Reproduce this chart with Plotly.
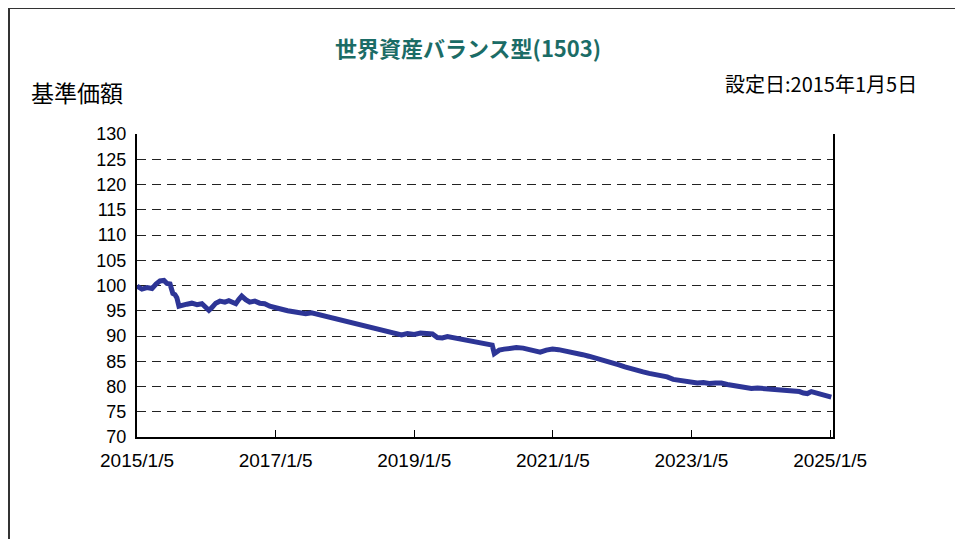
import plotly.graph_objects as go

# ---- data ----
dates = [
    "2015-01-05", "2015-01-31", "2015-02-27", "2015-03-25", "2015-04-15", "2015-05-06",
    "2015-05-27", "2015-06-12", "2015-06-28", "2015-07-13", "2015-07-24", "2015-08-03",
    "2015-08-14", "2015-09-04", "2015-09-25", "2015-10-21", "2015-11-17", "2015-12-13",
    "2016-01-03", "2016-01-19", "2016-02-03", "2016-02-24", "2016-03-17", "2016-04-12",
    "2016-05-03", "2016-05-24", "2016-06-09", "2016-06-24", "2016-07-10", "2016-07-31",
    "2016-08-21", "2016-09-17", "2016-10-13", "2016-11-08", "2016-12-05", "2017-01-05",
    "2017-02-06", "2017-03-09", "2017-04-10", "2017-05-11", "2017-06-12", "2017-07-13",
    "2017-08-14", "2017-09-14", "2017-10-16", "2017-11-17", "2017-12-18", "2018-01-19",
    "2018-02-19", "2018-03-23", "2018-04-23", "2018-05-25", "2018-06-25", "2018-07-27",
    "2018-08-28", "2018-09-28", "2018-10-30", "2018-11-30", "2019-01-06", "2019-02-07",
    "2019-03-10", "2019-04-11", "2019-05-07", "2019-06-02", "2019-06-29", "2019-07-30",
    "2019-08-31", "2019-10-01", "2019-11-02", "2019-12-03", "2020-01-04", "2020-02-05",
    "2020-02-20", "2020-03-02", "2020-03-12", "2020-03-28", "2020-04-23", "2020-05-20",
    "2020-06-26", "2020-08-01", "2020-09-02", "2020-10-04", "2020-10-30", "2020-12-01",
    "2021-01-03", "2021-02-04", "2021-03-08", "2021-04-08", "2021-05-10", "2021-06-11",
    "2021-07-13", "2021-08-13", "2021-09-14", "2021-10-16", "2021-11-17", "2021-12-19",
    "2022-01-19", "2022-02-20", "2022-03-24", "2022-04-25", "2022-05-27", "2022-06-28",
    "2022-07-29", "2022-08-30", "2022-10-01", "2022-11-02", "2022-12-03", "2023-01-04",
    "2023-02-05", "2023-03-09", "2023-04-09", "2023-05-11", "2023-06-12", "2023-07-13",
    "2023-08-14", "2023-09-15", "2023-10-16", "2023-11-17", "2023-12-19", "2024-01-19",
    "2024-02-20", "2024-03-23", "2024-04-23", "2024-05-25", "2024-06-26", "2024-07-27",
    "2024-08-17", "2024-09-07", "2024-09-28", "2024-10-19", "2024-11-09", "2024-11-30",
    "2024-12-21", "2025-01-11",
]
nav = [
    99.9, 99.3, 99.6, 99.4, 100.3, 100.9,
    101.0, 100.4, 100.3, 98.4, 98.2, 97.6,
    95.9, 96.0, 96.3, 96.5, 96.2, 96.4,
    95.8, 95.1, 95.6, 96.5, 96.9, 96.7,
    97.0, 96.6, 96.4, 97.2, 97.9, 97.2,
    96.7, 96.9, 96.5, 96.4, 95.9, 95.6,
    95.2, 95.0, 94.8, 94.7, 94.4, 94.6,
    94.3, 94.1, 93.8, 93.5, 93.2, 92.8,
    92.6, 92.4, 92.0, 91.7, 91.4, 91.0,
    90.7, 90.4, 90.2, 90.5, 90.3, 90.6,
    90.6, 90.4, 89.7, 89.6, 89.9, 89.7,
    89.4, 89.3, 89.0, 88.8, 88.6, 88.4,
    88.2, 86.5, 86.8, 87.2, 87.4, 87.6,
    87.7, 87.6, 87.3, 87.0, 86.8, 87.2,
    87.4, 87.3, 87.1, 86.9, 86.6, 86.3,
    86.0, 85.7, 85.4, 85.0, 84.6, 84.3,
    83.9, 83.5, 83.3, 82.9, 82.6, 82.4,
    82.3, 81.9, 81.4, 81.2, 81.1, 80.8,
    80.7, 80.8, 80.6, 80.7, 80.7, 80.4,
    80.2, 80.0, 79.9, 79.6, 79.7, 79.6,
    79.7, 79.6, 79.5, 79.3, 79.2, 79.0,
    78.7, 78.6, 79.0, 78.8, 78.5, 78.3,
    78.1, 77.9,
]
x_tick_vals = ["2015-01-05", "2017-01-05", "2019-01-05", "2021-01-05", "2023-01-05", "2025-01-05"]
x_tick_text = ["2015/1/5", "2017/1/5", "2019/1/5", "2021/1/5", "2023/1/5", "2025/1/5"]
y_tick_vals = [70, 75, 80, 85, 90, 95, 100, 105, 110, 115, 120, 125, 130]

title_text = "世界資産バランス型(1503)"
ylabel_text = "基準価額"
setup_text = "設定日:2015年1月5日"

# ---- layout geometry (screen pixels; page body adds an 8px offset) ----
OFF = 8
W, H = 963, 539
L, R, T, B = 137 - OFF, 833 - OFF, 134 - OFF, 437 - OFF

def px_x(p):
    return (p - OFF - L) / (R - L)

def px_y(p):
    return (B - (p - OFF)) / (B - T)

jp_font = "Noto Sans CJK JP"

fig = go.Figure()
fig.add_trace(go.Scatter(
    x=dates, y=nav, mode="lines",
    line=dict(color="#2d3596", width=5),
    hoverinfo="skip", showlegend=False,
))

fig.update_layout(
    width=W, height=H,
    margin=dict(l=L, r=W - R, t=T, b=H - B, pad=0),
    paper_bgcolor="white", plot_bgcolor="white",
    showlegend=False,
    xaxis=dict(
        type="date",
        range=["2015-01-05", "2025-01-20"],
        tickvals=x_tick_vals, ticktext=x_tick_text,
        ticks="inside", ticklen=7, tickcolor="#000", tickwidth=1,
        showline=True, linecolor="#000", linewidth=2, mirror=False,
        showgrid=False, zeroline=False,
        tickfont=dict(family="Liberation Sans, Arial", size=19, color="#000"),
        ticklabelstandoff=5,
    ),
    yaxis=dict(
        range=[70, 130],
        tickvals=y_tick_vals,
        ticks="", showline=True, linecolor="#000", linewidth=2, mirror=True,
        showgrid=True, gridcolor="#222", gridwidth=1, griddash="9px,6px",
        zeroline=False,
        tickfont=dict(family="Liberation Sans, Arial", size=18, color="#000"),
        ticklabelstandoff=5,
    ),
)

# outer frame (left and top edges visible)
fig.add_shape(type="line", xref="paper", yref="paper",
              x0=px_x(9), x1=px_x(9), y0=px_y(H + 20), y1=px_y(8),
              line=dict(color="#333", width=2))
fig.add_shape(type="line", xref="paper", yref="paper",
              x0=px_x(8), x1=px_x(W + 20), y0=px_y(8), y1=px_y(8),
              line=dict(color="#333", width=2))

fig.add_annotation(text="<b>" + title_text + "</b>", xref="paper", yref="paper",
                   x=px_x(468), y=px_y(47), showarrow=False,
                   xanchor="center", yanchor="middle",
                   font=dict(family=jp_font, size=22, color="#1b6c66"))
fig.add_annotation(text=ylabel_text, xref="paper", yref="paper",
                   x=px_x(29), y=px_y(92), showarrow=False,
                   xanchor="left", yanchor="middle",
                   font=dict(family=jp_font, size=23, color="#000"))
fig.add_annotation(text=setup_text, xref="paper", yref="paper",
                   x=px_x(919), y=px_y(83), showarrow=False,
                   xanchor="right", yanchor="middle",
                   font=dict(family=jp_font, size=20, color="#000"))

fig.write_html("out.html")
